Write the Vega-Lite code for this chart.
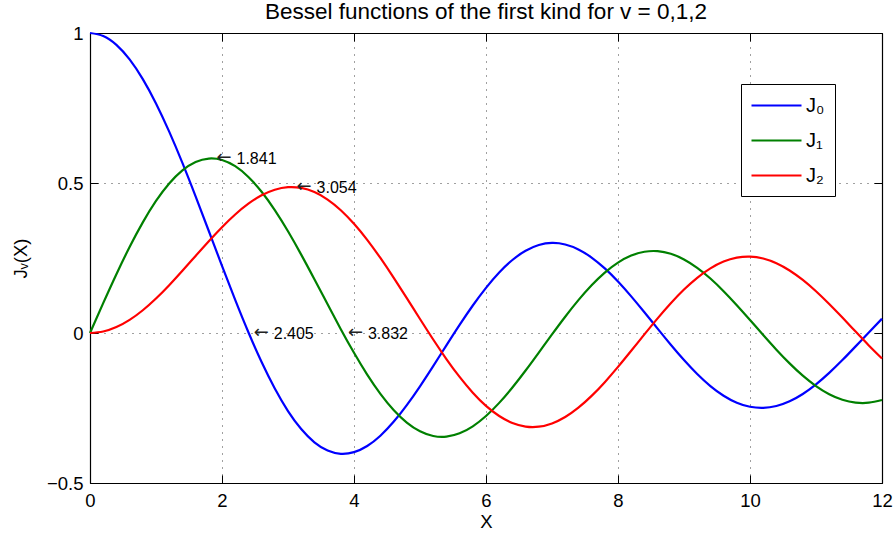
{
  "$schema": "https://vega.github.io/schema/vega-lite/v6.json",
  "width": 792,
  "height": 450,
  "autosize": {"type": "none"},
  "padding": {"left": 90, "top": 33, "right": 14, "bottom": 56},
  "background": "white",
  "title": {
    "text": "Bessel functions of the first kind for v = 0,1,2",
    "font": "Liberation Sans",
    "fontSize": 22.5,
    "fontWeight": "normal",
    "color": "black",
    "anchor": "middle",
    "offset": 1
  },
  "config": {
    "view": {"stroke": null},
    "font": "Liberation Sans",
    "axis": {
      "domainColor": "black",
      "domainWidth": 1.2,
      "tickColor": "black",
      "tickWidth": 1,
      "tickSize": -8,
      "labelColor": "black",
      "labelFont": "Liberation Sans",
      "labelFontSize": 18.5,
      "labelFlush": false,
      "labelOverlap": false,
      "titleColor": "black",
      "titleFont": "Liberation Sans",
      "titleFontSize": 18.5,
      "titleFontWeight": "normal",
      "gridColor": "black",
      "gridDash": [1, 6],
      "gridWidth": 1,
      "gridOpacity": 0.75
    }
  },
  "datasets": {
    "ann": [
      {"x": 1.841, "y": 0.5819, "t": "1.841"},
      {"x": 3.054, "y": 0.4865, "t": "3.054"},
      {"x": 2.405, "y": 0, "t": "2.405"},
      {"x": 3.832, "y": 0, "t": "3.832"}
    ]
  },
  "layer": [
    {
      "data": {
        "values": [
          {"x": 0, "j0": 1, "j1": 0, "j2": 0},
          {"x": 0.2, "j0": 0.99, "j1": 0.0995, "j2": 0.005},
          {"x": 0.4, "j0": 0.9604, "j1": 0.196, "j2": 0.0197},
          {"x": 0.6, "j0": 0.912, "j1": 0.2867, "j2": 0.0437},
          {"x": 0.8, "j0": 0.8463, "j1": 0.3688, "j2": 0.0758},
          {"x": 1.0, "j0": 0.7652, "j1": 0.4401, "j2": 0.1149},
          {"x": 1.2, "j0": 0.6711, "j1": 0.4983, "j2": 0.1593},
          {"x": 1.4, "j0": 0.5669, "j1": 0.5419, "j2": 0.2073},
          {"x": 1.6, "j0": 0.4554, "j1": 0.5699, "j2": 0.257},
          {"x": 1.8, "j0": 0.34, "j1": 0.5815, "j2": 0.3061},
          {"x": 2.0, "j0": 0.2239, "j1": 0.5767, "j2": 0.3528},
          {"x": 2.2, "j0": 0.1104, "j1": 0.556, "j2": 0.3951},
          {"x": 2.4, "j0": 0.0025, "j1": 0.5202, "j2": 0.431},
          {"x": 2.6, "j0": -0.0968, "j1": 0.4708, "j2": 0.459},
          {"x": 2.8, "j0": -0.185, "j1": 0.4097, "j2": 0.4776},
          {"x": 3.0, "j0": -0.2601, "j1": 0.3391, "j2": 0.4861},
          {"x": 3.2, "j0": -0.3202, "j1": 0.2613, "j2": 0.4835},
          {"x": 3.4, "j0": -0.3643, "j1": 0.1792, "j2": 0.4697},
          {"x": 3.6, "j0": -0.3918, "j1": 0.0955, "j2": 0.4448},
          {"x": 3.8, "j0": -0.4026, "j1": 0.0128, "j2": 0.4093},
          {"x": 4.0, "j0": -0.3971, "j1": -0.066, "j2": 0.3641},
          {"x": 4.2, "j0": -0.3766, "j1": -0.1386, "j2": 0.3106},
          {"x": 4.4, "j0": -0.3423, "j1": -0.2028, "j2": 0.2501},
          {"x": 4.6, "j0": -0.2961, "j1": -0.2566, "j2": 0.1845},
          {"x": 4.8, "j0": -0.2404, "j1": -0.2985, "j2": 0.116},
          {"x": 5.0, "j0": -0.1776, "j1": -0.3276, "j2": 0.0466},
          {"x": 5.2, "j0": -0.1103, "j1": -0.3432, "j2": -0.0217},
          {"x": 5.4, "j0": -0.0412, "j1": -0.3453, "j2": -0.0867},
          {"x": 5.6, "j0": 0.027, "j1": -0.3343, "j2": -0.1464},
          {"x": 5.8, "j0": 0.0917, "j1": -0.311, "j2": -0.1989},
          {"x": 6.0, "j0": 0.1506, "j1": -0.2767, "j2": -0.2429},
          {"x": 6.2, "j0": 0.2017, "j1": -0.2329, "j2": -0.2768},
          {"x": 6.4, "j0": 0.2433, "j1": -0.1816, "j2": -0.3001},
          {"x": 6.6, "j0": 0.274, "j1": -0.125, "j2": -0.3119},
          {"x": 6.8, "j0": 0.2931, "j1": -0.0652, "j2": -0.3123},
          {"x": 7.0, "j0": 0.3001, "j1": -0.0047, "j2": -0.3014},
          {"x": 7.2, "j0": 0.2951, "j1": 0.0543, "j2": -0.28},
          {"x": 7.4, "j0": 0.2786, "j1": 0.1096, "j2": -0.249},
          {"x": 7.6, "j0": 0.2516, "j1": 0.1592, "j2": -0.2097},
          {"x": 7.8, "j0": 0.2154, "j1": 0.2014, "j2": -0.1638},
          {"x": 8.0, "j0": 0.1717, "j1": 0.2346, "j2": -0.113},
          {"x": 8.2, "j0": 0.1222, "j1": 0.258, "j2": -0.0593},
          {"x": 8.4, "j0": 0.0692, "j1": 0.2708, "j2": -0.0047},
          {"x": 8.6, "j0": 0.0146, "j1": 0.2728, "j2": 0.0488},
          {"x": 8.8, "j0": -0.0392, "j1": 0.2641, "j2": 0.0992},
          {"x": 9.0, "j0": -0.0903, "j1": 0.2453, "j2": 0.1448},
          {"x": 9.2, "j0": -0.1367, "j1": 0.2174, "j2": 0.184},
          {"x": 9.4, "j0": -0.1768, "j1": 0.1816, "j2": 0.2154},
          {"x": 9.6, "j0": -0.209, "j1": 0.1395, "j2": 0.2381},
          {"x": 9.8, "j0": -0.2323, "j1": 0.0928, "j2": 0.2512},
          {"x": 10.0, "j0": -0.2459, "j1": 0.0435, "j2": 0.2546},
          {"x": 10.2, "j0": -0.2495, "j1": -0.0066, "j2": 0.2482},
          {"x": 10.4, "j0": -0.2433, "j1": -0.0555, "j2": 0.2326},
          {"x": 10.6, "j0": -0.2276, "j1": -0.1012, "j2": 0.2085},
          {"x": 10.8, "j0": -0.2032, "j1": -0.1422, "j2": 0.1769},
          {"x": 11.0, "j0": -0.1712, "j1": -0.1768, "j2": 0.1391},
          {"x": 11.2, "j0": -0.133, "j1": -0.2039, "j2": 0.0966},
          {"x": 11.4, "j0": -0.0903, "j1": -0.2224, "j2": 0.0513},
          {"x": 11.6, "j0": -0.0446, "j1": -0.232, "j2": 0.0046},
          {"x": 11.8, "j0": 0.002, "j1": -0.2323, "j2": -0.0414},
          {"x": 12.0, "j0": 0.0477, "j1": -0.2234, "j2": -0.0849}
        ]
      },
      "transform": [{"fold": ["j0", "j1", "j2"], "as": ["s", "y"]}],
      "mark": {"type": "line", "interpolate": "natural", "strokeWidth": 2.2},
      "encoding": {
        "x": {
          "field": "x", "type": "quantitative",
          "scale": {"domain": [0, 12], "nice": false, "zero": false},
          "axis": {
            "orient": "bottom", "values": [0, 2, 4, 6, 8, 10, 12], "format": "~g",
            "grid": true, "labelPadding": 16.5, "title": "X", "titlePadding": 2
          }
        },
        "y": {
          "field": "y", "type": "quantitative",
          "scale": {"domain": [-0.5, 1], "nice": false, "zero": false},
          "axis": {
            "orient": "left", "values": [-0.5, 0, 0.5, 1], "format": "~g",
            "grid": true, "labelPadding": 15, "title": "Jᵥ(X)", "titlePadding": 16
          }
        },
        "color": {
          "field": "s", "type": "nominal",
          "scale": {"domain": ["j0", "j1", "j2"], "range": ["#0000ff", "#008000", "#ff0000"]},
          "legend": {
            "orient": "none",
            "legendX": 651,
            "legendY": 51,
            "title": null,
            "labelExpr": "datum.label == 'j0' ? 'J₀' : (datum.label == 'j1' ? 'J₁' : 'J₂')",
            "labelFont": "Liberation Sans",
            "labelFontSize": 20,
            "labelColor": "black",
            "labelOffset": 18,
            "symbolType": "M-2.5,0H2.5",
            "symbolSize": 400,
            "symbolOffset": 14,
            "symbolStrokeWidth": 2.2,
            "strokeColor": "black",
            "fillColor": "white",
            "padding": 10,
            "rowPadding": 13,
            "cornerRadius": 0
          }
        }
      }
    },
    {
      "data": {"name": "ann"},
      "mark": {"type": "text", "align": "left", "baseline": "middle", "dx": 5, "dy": 0, "fontSize": 18, "font": "DejaVu Sans", "color": "#222222"},
      "encoding": {
        "x": {
          "field": "x", "type": "quantitative",
          "scale": {"domain": [0, 12], "nice": false, "zero": false},
          "axis": {"orient": "top", "values": [0, 2, 4, 6, 8, 10, 12], "labels": false, "grid": false, "title": null}
        },
        "y": {
          "field": "y", "type": "quantitative",
          "scale": {"domain": [-0.5, 1], "nice": false, "zero": false},
          "axis": {"orient": "right", "values": [-0.5, 0, 0.5, 1], "labels": false, "grid": false, "title": null}
        },
        "text": {"value": "←"}
      }
    },
    {
      "data": {"name": "ann"},
      "mark": {"type": "text", "align": "left", "baseline": "middle", "dx": 25, "dy": 1, "fontSize": 16, "font": "Liberation Sans", "color": "black"},
      "encoding": {
        "x": {
          "field": "x", "type": "quantitative",
          "scale": {"domain": [0, 12], "nice": false, "zero": false},
          "axis": null
        },
        "y": {
          "field": "y", "type": "quantitative",
          "scale": {"domain": [-0.5, 1], "nice": false, "zero": false},
          "axis": null
        },
        "text": {"field": "t", "type": "nominal"}
      }
    }
  ],
  "resolve": {"scale": {"x": "independent", "y": "independent"}}
}
